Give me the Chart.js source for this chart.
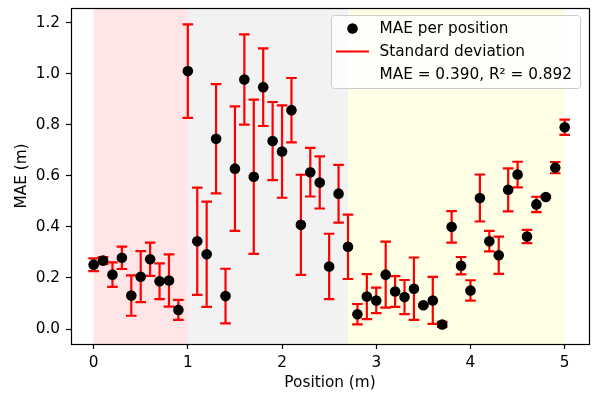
<!DOCTYPE html>
<html lang="en">
<head>
<meta charset="UTF-8">
<title>MAE per position</title>
<script src="https://cdn.jsdelivr.net/npm/chart.js"></script>
<style>
    body { margin: 0; background: #fff; }
    #wrap { width: 593px; height: 394px; }
</style>
</head>
<body>
<div id="wrap"><canvas id="grafico" width="593" height="394"></canvas></div>
<script>
// Values
const positions = [0.0, 0.1, 0.2, 0.3, 0.4, 0.5, 0.6, 0.7, 0.8, 0.9,
                   1.0, 1.1, 1.2, 1.3, 1.4, 1.5, 1.6, 1.7, 1.8, 1.9,
                   2.0, 2.1, 2.2, 2.3, 2.4, 2.5, 2.6, 2.7, 2.8, 2.9,
                   3.0, 3.1, 3.2, 3.3, 3.4, 3.5, 3.6, 3.7, 3.8, 3.9,
                   4.0, 4.1, 4.2, 4.3, 4.4, 4.5, 4.6, 4.7, 4.8, 4.9, 5.0];
const maeValues = [0.252, 0.268, 0.213, 0.279, 0.131, 0.205, 0.273, 0.187, 0.190, 0.075,
                   1.010, 0.344, 0.293, 0.745, 0.129, 0.628, 0.977, 0.596, 0.947, 0.736,
                   0.695, 0.857, 0.408, 0.614, 0.574, 0.245, 0.530, 0.322, 0.058, 0.127,
                   0.112, 0.213, 0.147, 0.125, 0.158, 0.093, 0.112, 0.018, 0.400, 0.248,
                   0.151, 0.513, 0.344, 0.289, 0.545, 0.605, 0.362, 0.488, 0.517, 0.632, 0.790];
const stdValues = [0.025, 0.014, 0.048, 0.044, 0.079, 0.100, 0.065, 0.070, 0.102, 0.039,
                   0.183, 0.210, 0.206, 0.214, 0.107, 0.244, 0.177, 0.302, 0.152, 0.153,
                   0.181, 0.126, 0.196, 0.095, 0.102, 0.128, 0.113, 0.126, 0.040, 0.088,
                   0.050, 0.129, 0.060, 0.067, 0.122, 0.004, 0.092, 0.010, 0.062, 0.034,
                   0.040, 0.092, 0.040, 0.073, 0.084, 0.050, 0.026, 0.030, 0.004, 0.022, 0.030];
const xTicks = [0, 1, 2, 3, 4, 5];
const yTicks = [0.0, 0.2, 0.4, 0.6, 0.8, 1.0, 1.2];
const bandStarts = [0, 1, 2.7];
const bandEnds = [1, 2.7, 5];
const bandColors = ['rgba(255,0,0,0.1)', 'rgba(128,128,128,0.1)', 'rgba(255,255,0,0.1)'];
const legendLabels = ['MAE per position', 'Standard deviation', 'MAE = 0.390, R\u00b2 = 0.892'];

const fonte = 'DejaVu Sans';
const tamanho = 15.3;

// Faixas de fundo
const faixas = {
    id: 'faixas',
    beforeDraw(chart) {
        const { ctx, chartArea, scales } = chart;
        ctx.save();
        for (let i = 0; i < bandStarts.length; i++) {
            const x0 = scales.x.getPixelForValue(bandStarts[i]);
            const x1 = scales.x.getPixelForValue(bandEnds[i]);
            ctx.fillStyle = bandColors[i];
            ctx.fillRect(x0, chartArea.top, x1 - x0, chartArea.bottom - chartArea.top);
        }
        ctx.restore();
    }
};

// Barras de erro
const barrasErro = {
    id: 'barrasErro',
    beforeDatasetsDraw(chart) {
        const { ctx, scales } = chart;
        ctx.save();
        ctx.strokeStyle = '#ff0000';
        ctx.lineWidth = 2.2;
        for (let i = 0; i < positions.length; i++) {
            const x = scales.x.getPixelForValue(positions[i]);
            const yTop = scales.y.getPixelForValue(maeValues[i] + stdValues[i]);
            const yBot = scales.y.getPixelForValue(maeValues[i] - stdValues[i]);
            ctx.beginPath();
            ctx.moveTo(x, yTop); ctx.lineTo(x, yBot);
            ctx.moveTo(x - 5.3, yTop); ctx.lineTo(x + 5.3, yTop);
            ctx.moveTo(x - 5.3, yBot); ctx.lineTo(x + 5.3, yBot);
            ctx.stroke();
        }
        ctx.restore();
    }
};

// Moldura e legenda
const moldura = {
    id: 'moldura',
    afterDraw(chart) {
        const { ctx, chartArea } = chart;
        ctx.save();
        ctx.strokeStyle = '#000';
        ctx.lineWidth = 1.2;
        ctx.strokeRect(Math.round(chartArea.left) + 0.5, Math.round(chartArea.top) + 0.5,
            Math.round(chartArea.right - chartArea.left), Math.round(chartArea.bottom - chartArea.top));

        // legenda
        const lx = 331.5, ly = 15.5, lw = 249, lh = 73, r = 3;
        ctx.beginPath();
        ctx.moveTo(lx + r, ly);
        ctx.arcTo(lx + lw, ly, lx + lw, ly + lh, r);
        ctx.arcTo(lx + lw, ly + lh, lx, ly + lh, r);
        ctx.arcTo(lx, ly + lh, lx, ly, r);
        ctx.arcTo(lx, ly, lx + lw, ly, r);
        ctx.closePath();
        ctx.fillStyle = 'rgba(255,255,255,0.8)';
        ctx.fill();
        ctx.strokeStyle = '#cccccc';
        ctx.lineWidth = 1;
        ctx.stroke();

        ctx.fillStyle = '#000';
        ctx.beginPath();
        ctx.arc(352.5, 28.5, 5.3, 0, Math.PI * 2);
        ctx.fill();
        ctx.strokeStyle = '#ff0000';
        ctx.lineWidth = 2.2;
        ctx.beginPath();
        ctx.moveTo(336, 51.5); ctx.lineTo(369, 51.5);
        ctx.stroke();

        ctx.font = tamanho + 'px "' + fonte + '"';
        ctx.textBaseline = 'middle';
        ctx.textAlign = 'left';
        ctx.fillStyle = '#000';
        const rows = [28.6, 51.6, 74.6];
        legendLabels.forEach((t, i) => ctx.fillText(t, 379.5, rows[i]));
        ctx.restore();
    }
};

new Chart(document.getElementById('grafico').getContext('2d'), {
    type: 'scatter',
    data: {
        datasets: [{
            label: legendLabels[0],
            data: positions.map((p, i) => ({ x: p, y: maeValues[i] })),
            backgroundColor: '#000',
            borderColor: '#000',
            borderWidth: 0,
            pointRadius: 5.3,
            pointHoverRadius: 5.3
        }]
    },
    plugins: [faixas, barrasErro, moldura],
    options: {
        responsive: false,
        animation: false,
        layout: { autoPadding: false, padding: { top: 8, right: 4, left: 0, bottom: 0 } },
        plugins: { legend: { display: false }, tooltip: { enabled: false } },
        scales: {
            x: {
                type: 'linear',
                min: -0.240, max: 5.258,
                afterBuildTicks: s => { s.ticks = xTicks.map(v => ({ value: v })); },
                afterFit: s => { s.height = 50; s.paddingLeft = 0; s.paddingRight = 0; },
                grid: { drawOnChartArea: false, drawTicks: true, tickLength: 5, color: '#000', tickWidth: 1.2 },
                border: { display: true, color: '#000' },
                ticks: { color: '#000', font: { family: fonte, size: tamanho }, padding: 5, maxRotation: 0 },
                title: { display: true, text: 'Position (m)', color: '#000', font: { family: fonte, size: tamanho }, padding: { top: 0, bottom: 2 } }
            },
            y: {
                min: -0.0586, max: 1.257,
                afterBuildTicks: s => { s.ticks = yTicks.map(v => ({ value: v })); },
                afterFit: s => { s.width = 71; s.paddingTop = 0; s.paddingBottom = 0; },
                grid: { drawOnChartArea: false, drawTicks: true, tickLength: 5, color: '#000', tickWidth: 1.2 },
                border: { display: true, color: '#000' },
                ticks: { color: '#000', font: { family: fonte, size: tamanho }, padding: 6, callback: v => v.toFixed(1) },
                title: { display: true, text: 'MAE (m)', color: '#000', font: { family: fonte, size: tamanho }, padding: { top: 12.5, bottom: 0 } }
            }
        }
    }
});
</script>
</body>
</html>
